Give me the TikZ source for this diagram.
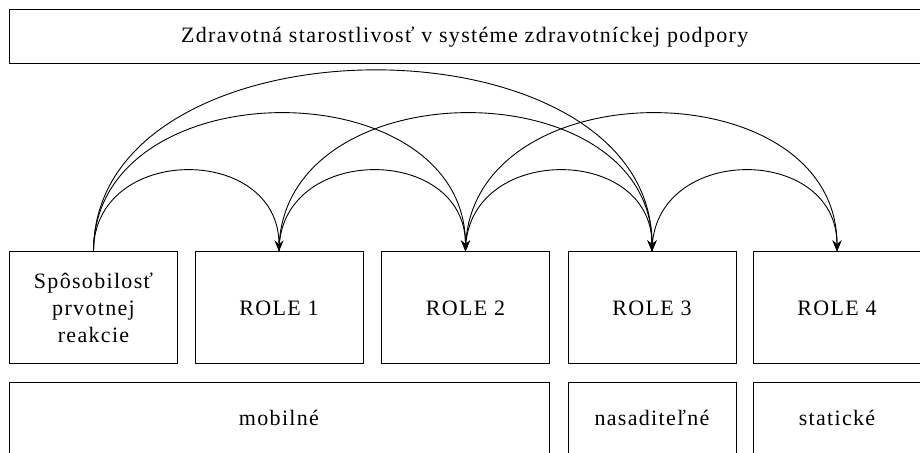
\documentclass[tikz,border=0pt]{standalone}
\usepackage{fontspec}
\setmainfont{Liberation Serif}[LetterSpace=6]
\usetikzlibrary{arrows.meta}
\begin{document}
\begin{tikzpicture}[x=1pt,y=1pt]
\tikzstyle{every node}+=[inner sep=0pt]
\tikzstyle{box}=[draw=black, line width=1pt, align=center, font=\fontsize{22}{27}\selectfont]
\tikzstyle{role}=[box, minimum width=168pt, minimum height=112pt]
\tikzstyle{kind}=[box, minimum height=70pt]
\tikzstyle{link}=[draw=black, line width=0.9pt, -{Stealth[length=11pt,width=9pt]}]
\useasboundingbox (0,0) rectangle (920,452);
\node [box, minimum width=911.5pt, minimum height=54pt] (top) at (464.75,415) {Zdravotná starostlivosť v systéme zdravotníckej podpory};
\node [role] (first) at (93.5,144) {Spôsobilosť\\prvotnej\\reakcie};
\node [role] (role1) at (279,144) {ROLE 1};
\node [role] (role2) at (465.5,144) {ROLE 2};
\node [role] (role3) at (652,144) {ROLE 3};
\node [role] (role4) at (837,144) {ROLE 4};
\node [kind, minimum width=540pt] (mobile) at (279,34) {mobilné};
\node [kind, minimum width=168pt] (deploy) at (652,34) {nasaditeľné};
\node [kind, minimum width=168pt] (static) at (837,34) {statické};
\draw [link] (first.north) .. controls +(0,108) and +(0,108) .. (role1.north);
\draw [link] (first.north) .. controls +(0,184) and +(0,184) .. (role2.north);
\draw [link] (first.north) .. controls +(0,241) and +(0,241) .. (role3.north);
\draw [link] (role1.north) .. controls +(0,108) and +(0,108) .. (role2.north);
\draw [link] (role1.north) .. controls +(0,184) and +(0,184) .. (role3.north);
\draw [link] (role2.north) .. controls +(0,108) and +(0,108) .. (role3.north);
\draw [link] (role2.north) .. controls +(0,184) and +(0,184) .. (role4.north);
\draw [link] (role3.north) .. controls +(0,108) and +(0,108) .. (role4.north);
\end{tikzpicture}
\end{document}
